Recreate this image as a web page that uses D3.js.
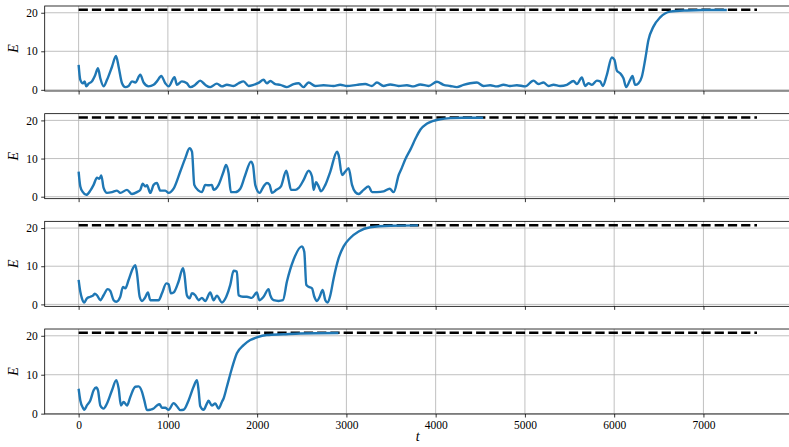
<!DOCTYPE html>
<html>
<head>
<meta charset="utf-8">
<script src="https://cdn.jsdelivr.net/npm/d3@7/dist/d3.min.js"></script>
<style>
  html, body { margin: 0; padding: 0; background: #fff; }
  svg { display: block; }
  .tick text { font-family: "Liberation Serif", "DejaVu Serif", serif; font-size: 11.5px; fill: #000; }
  .lbl { font-family: "Liberation Serif", "DejaVu Serif", serif; font-style: italic; font-size: 14px; fill: #000; }
</style>
</head>
<body>
<svg id="chart" width="789" height="447"></svg>
<script>
// Energy E(t) for four runs; each run ends once it settles at the target level.
const targetE = 20.75;
const targetSpan = [0, 7600];

const run1T = [0, 19, 48, 67, 86, 112, 149, 187, 217, 243, 280, 318, 374, 419, 448, 486, 523, 560, 598, 635,
  691, 728, 784, 840, 877, 926, 971, 1008, 1075, 1101, 1157, 1213, 1250, 1306, 1362, 1418, 1474, 1549, 1605, 1661,
  1736, 1792, 1848, 1904, 1960, 2016, 2072, 2110, 2147, 2203, 2259, 2334, 2408, 2464, 2520, 2576, 2651, 2744, 2856,
  2931, 3006, 3118, 3211, 3286, 3342, 3416, 3491, 3584, 3678, 3752, 3827, 3920, 4014, 4088, 4163, 4238, 4312, 4387,
  4462, 4536, 4611, 4686, 4760, 4835, 4910, 5003, 5096, 5152, 5208, 5264, 5320, 5395, 5470, 5544, 5582, 5638, 5675,
  5712, 5750, 5806, 5843, 5873, 5918, 5974, 6003, 6030, 6067, 6104, 6134, 6179, 6205, 6235, 6272, 6310, 6347, 6384,
  6440, 6515, 6627, 6814, 7000, 7262];
const run1E = [6.5, 2.6, 1.7, 2.2, 0.9, 1.6, 2.2, 3.9, 5.6, 3.0, 0.9, 2.6, 6.0, 8.8, 6.0, 1.7, 0.7, 1.0, 2.2, 1.9,
  3.9, 1.9, 0.9, 1.3, 2.2, 3.6, 1.7, 0.9, 3.3, 1.3, 2.2, 1.7, 0.7, 1.3, 2.4, 1.3, 0.7, 1.6, 0.9, 1.3,
  1.0, 1.7, 2.2, 1.0, 1.3, 1.8, 2.6, 1.7, 2.3, 1.5, 1.3, 0.7, 1.5, 1.7, 0.7, 1.9, 1.0, 1.2, 1.0,
  1.3, 1.0, 1.3, 1.5, 1.0, 1.9, 1.0, 1.4, 1.0, 1.2, 0.9, 1.4, 1.0, 2.1, 1.3, 1.0, 0.7, 1.3, 1.7,
  1.9, 1.0, 1.2, 0.9, 1.3, 1.0, 1.2, 0.9, 2.4, 1.5, 1.9, 1.0, 1.3, 1.0, 1.3, 2.3, 1.5, 3.2, 1.0,
  1.7, 1.3, 2.4, 2.2, 1.0, 3.9, 8.4, 7.8, 5.0, 4.3, 3.0, 0.7, 2.6, 3.6, 1.3, 1.7, 3.4, 7.8, 12.9,
  16.4, 18.8, 20.3, 20.6, 20.7, 20.7];

const run2T = [0, 19, 48, 86, 131, 168, 206, 232, 254, 280, 318, 374, 430, 467, 542, 598, 654, 691, 718, 748,
  766, 803, 840, 877, 915, 971, 1008, 1064, 1139, 1195, 1243, 1270, 1296, 1344, 1381, 1419, 1456, 1493, 1512, 1568,
  1624, 1651, 1680, 1706, 1755, 1811, 1867, 1931, 1953, 1979, 2028, 2072, 2110, 2140, 2166, 2215, 2267, 2327, 2353,
  2379, 2428, 2465, 2521, 2577, 2615, 2633, 2660, 2689, 2715, 2764, 2820, 2895, 2913, 2951, 2988, 3025, 3063, 3100,
  3137, 3193, 3249, 3287, 3343, 3418, 3485, 3530, 3586, 3620, 3660, 3718, 3780, 3830, 3900, 3965, 4050, 4165, 4300,
  4532];
const run2E = [6.6, 2.7, 1.2, 0.5, 1.6, 3.1, 5.0, 4.7, 5.6, 2.3, 1.0, 1.2, 1.6, 1.0, 1.8, 0.7, 1.2, 1.8, 3.4, 2.7,
  3.0, 1.0, 3.1, 3.6, 1.6, 1.6, 1.0, 2.1, 6.6, 10.1, 12.7, 11.8, 3.1, 1.6, 1.2, 3.1, 3.0, 3.1, 1.8, 3.1,
  6.6, 8.3, 6.2, 1.2, 1.2, 2.1, 5.7, 9.2, 8.3, 3.1, 1.0, 2.7, 3.6, 3.1, 1.0, 1.8, 2.7, 6.8, 4.4,
  1.8, 1.8, 2.3, 4.4, 6.8, 5.3, 1.8, 3.8, 2.7, 1.4, 3.1, 6.6, 11.8, 10.9, 5.7, 6.6, 7.5, 3.1, 1.2,
  0.7, 1.8, 2.7, 1.2, 1.2, 1.4, 2.1, 1.2, 5.7, 7.5, 9.8, 12.4, 15.5, 17.6, 19.1, 19.8, 20.3, 20.6, 20.7,
  20.7];

const run3T = [0, 19, 37, 64, 93, 131, 161, 180, 206, 243, 280, 325, 355, 392, 422, 467, 497, 523, 560, 609,
  635, 654, 684, 710, 740, 777, 803, 840, 896, 934, 982, 1008, 1034, 1064, 1120, 1169, 1184, 1213, 1243, 1270,
  1307, 1344, 1381, 1419, 1475, 1512, 1549, 1605, 1654, 1699, 1736, 1773, 1792, 1841, 1885, 1941, 1997, 2024, 2072,
  2128, 2147, 2184, 2240, 2289, 2334, 2408, 2502, 2528, 2551, 2577, 2615, 2641, 2671, 2701, 2734, 2764, 2790, 2820,
  2857, 2913, 2969, 3043, 3137, 3268, 3492, 3803];
const run3E = [6.4, 3.3, 1.6, 0.5, 1.6, 2.0, 2.3, 2.8, 2.4, 1.1, 2.4, 4.0, 3.5, 1.1, 0.7, 2.0, 4.6, 4.2, 6.4, 9.5,
  10.3, 8.1, 2.0, 0.9, 1.6, 3.1, 1.1, 1.1, 1.1, 2.9, 5.5, 5.3, 2.9, 3.1, 6.0, 9.5, 8.1, 2.4, 1.6, 2.9,
  2.4, 1.1, 1.7, 0.9, 3.1, 1.1, 2.3, 0.5, 2.0, 5.1, 8.8, 8.6, 2.4, 2.0, 2.0, 1.7, 3.1, 1.1, 2.0,
  4.0, 2.4, 1.1, 0.9, 1.1, 6.0, 11.7, 15.2, 13.8, 5.1, 4.6, 4.2, 2.0, 0.9, 2.0, 3.8, 1.1, 0.5, 2.4,
  6.8, 12.1, 15.2, 17.4, 19.1, 20.2, 20.6, 20.7];

const run4T = [0, 19, 48, 64, 93, 131, 168, 198, 217, 243, 280, 318, 374, 422, 449, 474, 504, 542, 579, 635,
  672, 710, 736, 766, 803, 840, 877, 907, 933, 971, 1008, 1064, 1101, 1139, 1176, 1232, 1288, 1326, 1344, 1363,
  1400, 1437, 1456, 1493, 1531, 1568, 1605, 1624, 1661, 1717, 1773, 1848, 1923, 1997, 2109, 2296, 2483, 2912];
const run4E = [6.4, 3.4, 1.5, 1.0, 2.1, 3.4, 6.0, 6.7, 6.0, 2.1, 1.3, 2.6, 6.0, 8.6, 6.4, 2.1, 3.0, 2.1, 4.3, 6.9,
  7.0, 5.6, 3.4, 0.9, 1.0, 1.3, 2.1, 2.4, 1.5, 1.5, 1.0, 2.7, 1.9, 0.9, 1.0, 3.4, 6.9, 8.6, 6.0, 1.9,
  1.0, 2.6, 3.3, 2.1, 2.6, 1.3, 3.0, 3.9, 6.9, 11.6, 15.5, 17.6, 18.9, 19.6, 20.2, 20.4, 20.6, 20.7];

const runs = [[run1T, run1E], [run2T, run2E], [run3T, run3E], [run4T, run4E]];
const xTicks = [0, 1000, 2000, 3000, 4000, 5000, 6000, 7000];
const yTicks = [0, 10, 20];

const svg = d3.select("#chart");
const left = 44.7, right = 790.9;
const panelTop0 = 6, panelStep = 107.67, panelH = 85;
const blue = "#1f77b4", gridCol = "#b0b0b0";

// shared x scale with matplotlib-style 5% margins
const xPad = (targetSpan[1] - targetSpan[0]) * 0.05;
const x = d3.scaleLinear().domain([targetSpan[0] - xPad, targetSpan[1] + xPad]).range([left, right]);

runs.forEach(([ts, es], i) => {
  const top = panelTop0 + i * panelStep;
  const bottom = top + panelH;
  const lo = Math.min(d3.min(es), targetE), hi = Math.max(d3.max(es), targetE);
  const yPad = (hi - lo) * 0.05;
  const y = d3.scaleLinear().domain([lo - yPad, hi + yPad]).range([bottom, top]);

  const g = svg.append("g");
  const clipId = "clip" + i;
  svg.append("clipPath").attr("id", clipId)
    .append("rect").attr("x", left).attr("y", top).attr("width", right - left).attr("height", panelH);

  // grid
  const grid = g.append("g");
  grid.selectAll(".gx").data(xTicks).join("line")
    .attr("x1", d => x(d)).attr("x2", d => x(d)).attr("y1", top).attr("y2", bottom)
    .attr("stroke", gridCol).attr("stroke-width", 0.8);
  grid.selectAll(".gy").data(yTicks).join("line")
    .attr("x1", left).attr("x2", right).attr("y1", d => y(d)).attr("y2", d => y(d))
    .attr("stroke", gridCol).attr("stroke-width", 0.8);

  const plot = g.append("g").attr("clip-path", `url(#${clipId})`);

  // target level
  plot.append("line")
    .attr("x1", x(targetSpan[0])).attr("x2", x(targetSpan[1]))
    .attr("y1", y(targetE)).attr("y2", y(targetE))
    .attr("stroke", "#000").attr("stroke-width", 2.5).attr("stroke-dasharray", "9.25,4");

  // energy trace
  const pts = ts.map((t, k) => [t, es[k]]);
  plot.append("path").datum(pts)
    .attr("fill", "none").attr("stroke", blue).attr("stroke-width", 2.4)
    .attr("stroke-linejoin", "round").attr("stroke-linecap", "butt")
    .attr("d", d3.line().x(d => x(d[0])).y(d => y(d[1])).curve(d3.curveMonotoneX));

  // axes
  const xa = d3.axisBottom(x).tickValues(xTicks).tickSize(3.5).tickPadding(3.5)
    .tickFormat(i === runs.length - 1 ? d3.format("d") : () => "");
  const xg = g.append("g").attr("transform", `translate(0,${bottom})`).call(xa);
  const ya = d3.axisLeft(y).tickValues(yTicks).tickSize(3.5).tickPadding(3.5).tickFormat(d3.format("d"));
  const yg = g.append("g").attr("transform", `translate(${left},0)`).call(ya);
  [xg, yg].forEach(a => {
    a.select(".domain").remove();
    a.selectAll(".tick line").attr("stroke", "#000").attr("stroke-width", 0.8);
  });

  // frame
  g.append("rect").attr("x", left).attr("y", top).attr("width", right - left).attr("height", panelH)
    .attr("fill", "none").attr("stroke", "#000").attr("stroke-width", 0.8);

  // y label
  g.append("text").attr("class", "lbl")
    .attr("transform", `translate(18,${(top + bottom) / 2}) rotate(-90)`)
    .attr("text-anchor", "middle").text("E");
});

svg.append("text").attr("class", "lbl")
  .attr("x", (left + right) / 2).attr("y", 441).attr("text-anchor", "middle").text("t");
</script>
</body>
</html>
